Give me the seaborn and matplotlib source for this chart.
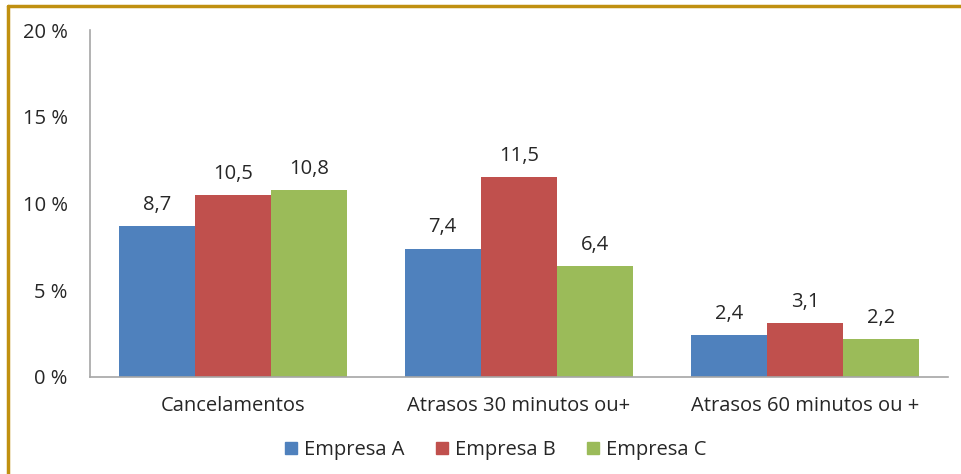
import matplotlib
matplotlib.use("Agg")
import matplotlib.pyplot as plt
import seaborn as sns
import pandas as pd
from matplotlib.lines import Line2D

categories = ["Cancelamentos", "Atrasos 30 minutos ou+", "Atrasos 60 minutos ou +"]
series = ["Empresa A", "Empresa B", "Empresa C"]
empresa_a = [8.7, 7.4, 2.4]
empresa_b = [10.5, 11.5, 3.1]
empresa_c = [10.8, 6.4, 2.2]
yticks = [0, 5, 10, 15, 20]
colors = ["#4F81BD", "#C0504D", "#9BBB59"]

rows = []
for s, vals in zip(series, [empresa_a, empresa_b, empresa_c]):
    for c, v in zip(categories, vals):
        rows.append({"cat": c, "serie": s, "val": v})
df = pd.DataFrame(rows)

sns.set_style("white")
plt.rcParams["font.family"] = ["Open Sans", "DejaVu Sans"]
txt = "#262626"
fs = 14.5

fig = plt.figure(figsize=(9.62, 4.74), dpi=100)
ax = fig.add_axes([90/962, 1-377/474, 858/962, 347/474])
sns.barplot(data=df, x="cat", y="val", hue="serie", palette=colors, width=0.8,
            saturation=1, ax=ax, legend=False, edgecolor="none", linewidth=0)

for cont in ax.containers:
    labels = [f"{v:.1f}".replace(".", ",") for v in cont.datavalues]
    ax.bar_label(cont, labels=labels, padding=8, fontsize=fs, color=txt)

ax.set_ylim(0, 20)
ax.set_xlim(-0.5, 2.5)
ax.set_yticks(yticks)
ax.set_yticklabels([f"{t} %" for t in yticks], fontsize=fs, color=txt)
ax.tick_params(axis="x", labelsize=fs, colors=txt, length=0, pad=14)
ax.tick_params(axis="y", length=0, pad=16)
ax.set_xlabel("")
ax.set_ylabel("")
for sp in ["top", "right"]:
    ax.spines[sp].set_visible(False)
for sp in ["left", "bottom"]:
    ax.spines[sp].set_color("#A6A6A6")
    ax.spines[sp].set_linewidth(1.2)

handles = [Line2D([0], [0], marker="s", linestyle="none", markersize=8.5,
                  markerfacecolor=c, markeredgecolor=c) for c in colors]
leg = fig.legend(handles, series, loc="center", bbox_to_anchor=(495/962, 1-450/474),
                 ncol=3, frameon=False, fontsize=fs, handlelength=0.7,
                 handletextpad=0.3, columnspacing=1.5)
for t in leg.get_texts():
    t.set_color(txt)

border = "#C09010"
fig.add_artist(Line2D([8/962, 1], [1-6/474, 1-6/474], color=border, linewidth=2.5,
                      transform=fig.transFigure))
fig.add_artist(Line2D([8/962, 8/962], [0, 1-6/474], color=border, linewidth=2.5,
                      transform=fig.transFigure))

fig.savefig("out.png", dpi=100)
